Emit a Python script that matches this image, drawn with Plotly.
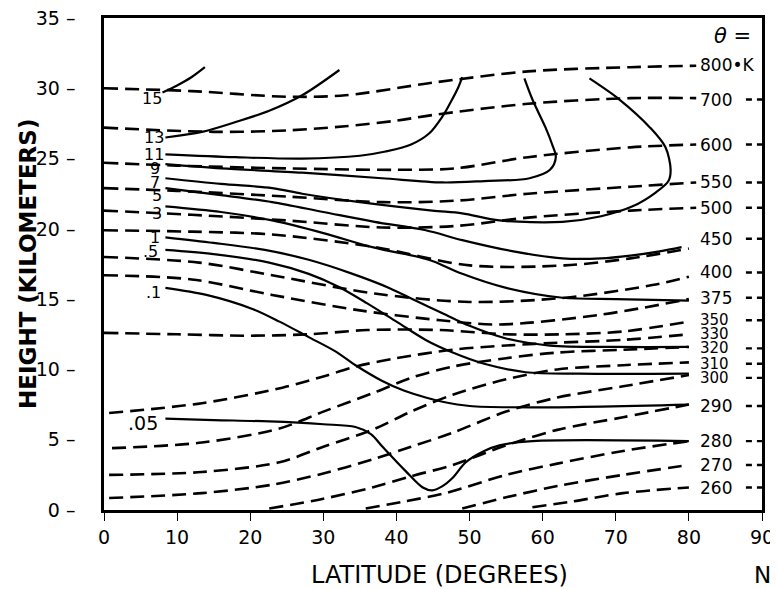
import plotly.graph_objects as go

# ---------------- Isentropes (dashed), potential temperature in K ----------------
theta_labels = ["800•K", "700", "600", "550", "500", "450", "400", "375", "350",
                "330", "320", "310", "300", "290", "280", "270", "260"]
theta_label_z = [31.65, 29.2, 26.0, 23.3, 21.5, 19.3, 16.9, 15.1, 13.5,
                 12.5, 11.5, 10.4, 9.4, 7.4, 4.9, 3.2, 1.6]
theta_tail = [False, True, True, True, True, True, True, True, True,
              False, True, True, True, True, True, True, True]

lat_800 = [0, 12, 25, 33, 45, 58, 72, 81]
z_800 = [30.0, 29.8, 29.4, 29.5, 30.4, 31.2, 31.5, 31.6]
lat_700 = [0, 15, 25, 33, 40, 45, 58, 72, 81]
z_700 = [27.2, 26.9, 27.0, 27.3, 27.7, 28.1, 28.9, 29.3, 29.3]
lat_600 = [0, 10, 25, 40, 48, 58, 72, 81]
z_600 = [24.7, 24.5, 24.3, 24.2, 24.3, 25.1, 25.8, 26.0]
lat_550 = [0, 10, 25, 38, 48, 58, 72, 81]
z_550 = [22.9, 22.7, 22.3, 21.9, 22.0, 22.5, 23.0, 23.3]
lat_500 = [0, 12, 25, 38, 48, 58, 72, 81]
z_500 = [21.3, 21.0, 20.6, 20.1, 20.2, 20.8, 21.3, 21.5]
lat_450 = [0, 12, 23, 37, 50, 63, 72, 80]
z_450 = [19.9, 19.8, 19.6, 18.7, 17.4, 17.4, 17.9, 18.6]
lat_400 = [0, 13, 23, 37, 50, 63, 75, 80]
z_400 = [18.0, 17.6, 16.7, 15.4, 14.8, 15.1, 16.0, 16.6]
lat_375 = [0, 12, 23, 35, 46, 54, 68, 80]
z_375 = [16.7, 16.4, 15.3, 14.2, 13.5, 13.2, 13.9, 15.0]
lat_350 = [0, 10, 20, 28, 36, 46, 55, 63, 71, 80]
z_350 = [12.6, 12.5, 12.4, 12.5, 12.8, 12.8, 12.5, 12.5, 12.7, 13.4]
lat_330 = [0.7, 13.4, 24.4, 30, 34.4, 40, 47.7, 55, 62, 71, 80]
z_330 = [6.9, 7.6, 8.7, 9.5, 10.2, 10.8, 11.4, 11.7, 11.9, 12.1, 12.5]
lat_320 = [1.1, 13.4, 24, 30, 36.7, 42, 47.7, 55, 62, 71, 80]
z_320 = [4.4, 4.8, 5.8, 7.0, 8.3, 9.4, 10.2, 10.8, 11.2, 11.4, 11.6]
lat_310 = [0.7, 13.4, 24, 30, 36.7, 42, 47.7, 55, 62, 71, 80]
z_310 = [2.5, 2.7, 3.4, 4.5, 5.7, 7.0, 8.2, 9.3, 10.0, 10.3, 10.5]
lat_300 = [0.7, 13.4, 23, 30, 36.7, 42, 47.7, 55, 62, 71, 80]
z_300 = [0.85, 1.2, 1.8, 2.6, 3.6, 4.5, 5.5, 7.0, 8.0, 8.8, 9.6]
lat_290 = [22.6, 30, 36.7, 42, 47.7, 55, 62, 71, 80]
z_290 = [0.1, 0.8, 1.6, 2.4, 3.2, 4.6, 5.7, 6.6, 7.5]
lat_280 = [35.8, 41, 46.7, 55, 62, 71, 80]
z_280 = [0.1, 0.6, 1.2, 2.5, 3.3, 4.2, 4.9]
lat_270 = [49, 55, 62, 71, 80]
z_270 = [0.1, 0.9, 1.7, 2.5, 3.2]
lat_260 = [58.6, 64, 71, 80]
z_260 = [0.2, 0.6, 1.2, 1.6]

theta_lats = [lat_800, lat_700, lat_600, lat_550, lat_500, lat_450, lat_400, lat_375,
              lat_350, lat_330, lat_320, lat_310, lat_300, lat_290, lat_280, lat_270, lat_260]
theta_zs = [z_800, z_700, z_600, z_550, z_500, z_450, z_400, z_375,
            z_350, z_330, z_320, z_310, z_300, z_290, z_280, z_270, z_260]

# ---------------- Ozone mixing ratio isopleths (solid) ----------------
ozone_labels = ["15", "13", "11", "9", "7", "5", "3", "1", ".5", ".1", ".05"]
ozone_label_lat = [6.6, 6.8, 6.8, 7.0, 7.0, 7.3, 7.3, 7.0, 6.3, 6.8, 5.4]
ozone_label_z = [29.3, 26.5, 25.3, 24.3, 23.3, 22.4, 21.1, 19.4, 18.4, 15.5, 6.2]

lat_o15 = [8, 10, 12, 13.8]
z_o15 = [29.7, 30.2, 30.8, 31.5]
lat_o13 = [8.4, 13.4, 18, 22.6, 27.1, 32.2]
z_o13 = [26.5, 26.9, 27.6, 28.4, 29.5, 31.3]
lat_o11 = [8.4, 18, 27.1, 35, 38.5, 42, 44.5, 46.3, 47.3, 48.4, 49.0]
z_o11 = [25.3, 25.1, 25.0, 25.2, 25.5, 26.0, 26.8, 28.0, 28.9, 30.0, 30.8]
lat_o9 = [8.4, 16, 27.1, 38, 46.3, 52, 58.2, 61.0, 61.8, 61.3, 60.4, 58.6, 57.5]
z_o9 = [24.6, 24.3, 24.0, 23.6, 23.3, 23.4, 23.6, 24.2, 25.1, 26.0, 27.2, 29.2, 30.7]
lat_o7 = [8.4, 16, 23, 27.1, 35, 44.9, 49, 54.1, 62.7, 68, 72.3, 75.5, 77.2, 77.5, 76.8, 74.7, 70.5, 66.4]
z_o7 = [23.6, 23.2, 22.9, 22.5, 21.9, 21.3, 21.1, 20.6, 20.5, 20.9, 21.6, 22.6, 23.4, 24.2, 25.8, 27.2, 29.2, 30.7]
lat_o5 = [8.4, 16, 23, 30, 37, 44, 49, 56, 62.7, 68, 72, 76, 79]
z_o5 = [22.9, 22.4, 21.9, 21.2, 20.5, 19.9, 19.2, 18.4, 17.9, 17.9, 18.1, 18.4, 18.7]
lat_o3 = [8.4, 16, 23, 30, 36.7, 43, 45, 49, 55, 62.7, 70, 80]
z_o3 = [21.6, 21.2, 20.6, 19.7, 18.7, 18.0, 17.7, 16.8, 15.8, 15.1, 15.0, 14.9]
lat_o1 = [8.4, 15, 22, 28, 34, 39, 42.6, 46.3, 50, 55, 61, 70, 80]
z_o1 = [19.4, 19.0, 18.5, 17.8, 16.8, 15.8, 14.9, 14.0, 13.1, 12.2, 11.7, 11.6, 11.6]
lat_o05 = [8.4, 15, 22.6, 28, 32, 36, 40, 44, 47.7, 52, 57.7, 65, 80]
z_o05 = [18.5, 18.2, 17.6, 16.8, 15.9, 14.7, 13.4, 12.1, 11.2, 10.4, 9.8, 9.7, 9.7]
lat_o01 = [8.4, 14, 20.3, 24, 28, 31.6, 34.4, 38, 41, 44, 46.3, 50, 58.6, 80]
z_o01 = [15.8, 15.3, 14.3, 13.4, 12.3, 11.3, 10.3, 9.2, 8.5, 8.0, 7.7, 7.4, 7.3, 7.5]
lat_o005 = [8.4, 15, 22.6, 30, 34.4, 36.5, 38.1, 41.2, 43.6, 44.9, 46.3, 47.7, 49.5, 52, 54.1, 58.6, 80]
z_o005 = [6.5, 6.4, 6.3, 6.1, 5.9, 5.4, 4.5, 2.8, 1.6, 1.4, 1.7, 2.3, 3.4, 4.2, 4.6, 4.9, 4.9]

ozone_lats = [lat_o15, lat_o13, lat_o11, lat_o9, lat_o7, lat_o5, lat_o3, lat_o1, lat_o05, lat_o01, lat_o005]
ozone_zs = [z_o15, z_o13, z_o11, z_o9, z_o7, z_o5, z_o3, z_o1, z_o05, z_o01, z_o005]

x_ticks = [0, 10, 20, 30, 40, 50, 60, 70, 80, 90]
y_ticks = [0, 5, 10, 15, 20, 25, 30, 35]
y_ticktext = [f"{v} –" for v in y_ticks]

FONT = "DejaVu Sans"
fig = go.Figure()

for lats, zs in zip(theta_lats, theta_zs):
    fig.add_trace(go.Scatter(x=lats, y=zs, mode="lines",
                             line=dict(color="black", width=2.6, dash="14px,7px",
                                       shape="spline", smoothing=0.9),
                             hoverinfo="skip", showlegend=False))

# short dashed tails right of the labels
for z, t in zip(theta_label_z, theta_tail):
    if t:
        fig.add_trace(go.Scatter(x=[87.8, 90], y=[z, z], mode="lines",
                                 line=dict(color="black", width=2.4, dash="6px,5px"),
                                 hoverinfo="skip", showlegend=False))

for lats, zs in zip(ozone_lats, ozone_zs):
    fig.add_trace(go.Scatter(x=lats, y=zs, mode="lines",
                             line=dict(color="black", width=2.2,
                                       shape="spline", smoothing=0.9),
                             hoverinfo="skip", showlegend=False))

crowded = {"350", "330", "320", "310", "300"}
for lab, z in zip(theta_labels, theta_label_z):
    fig.add_annotation(x=81.3, y=z, text=lab, showarrow=False, xanchor="left",
                       yanchor="middle",
                       font=dict(family=FONT, size=15 if lab in crowded else 17, color="black"))

for lab, x, z in zip(ozone_labels, ozone_label_lat, ozone_label_z):
    fig.add_annotation(x=x, y=z, text=lab, showarrow=False, xanchor="center",
                       yanchor="middle",
                       font=dict(family=FONT, size=19 if lab == ".05" else 16, color="black"))

fig.add_annotation(x=86.0, y=33.7, text="<i>θ</i> =", showarrow=False, xanchor="center",
                   yanchor="middle", font=dict(family=FONT, size=21, color="black"))

fig.add_annotation(xref="paper", yref="paper", x=0.51, y=-0.132, text="LATITUDE (DEGREES)",
                   showarrow=False, xanchor="center", yanchor="middle",
                   font=dict(family=FONT, size=24, color="black"))
fig.add_annotation(x=90, yref="paper", y=-0.132, text="N", showarrow=False,
                   xanchor="center", yanchor="middle",
                   font=dict(family=FONT, size=23, color="black"))
fig.add_annotation(xref="paper", yref="paper", x=-0.1155, y=0.5, text="<b>HEIGHT (KILOMETERS)</b>",
                   showarrow=False, textangle=-90, xanchor="center", yanchor="middle",
                   font=dict(family=FONT, size=23, color="black"))

fig.update_layout(
    width=778, height=589,
    margin=dict(l=96, r=24, t=10, b=87, autoexpand=False),
    paper_bgcolor="white", plot_bgcolor="white",
    xaxis=dict(range=[0, 90], tickvals=x_ticks, ticks="outside", ticklen=8, tickwidth=1.3,
               tickcolor="black", showline=True, linewidth=2.5, linecolor="black",
               mirror=True, showgrid=False, zeroline=False, automargin=False,
               ticklabeloverflow="allow",
               tickfont=dict(family=FONT, size=19, color="black")),
    yaxis=dict(range=[0, 35], tickvals=y_ticks, ticktext=y_ticktext, ticks="",
               ticklabelstandoff=22, automargin=False, ticklabeloverflow="allow",
               showline=True, linewidth=2.5, linecolor="black",
               mirror=True, showgrid=False, zeroline=False,
               tickfont=dict(family=FONT, size=19, color="black")),
)

fig.write_html("out.html")
